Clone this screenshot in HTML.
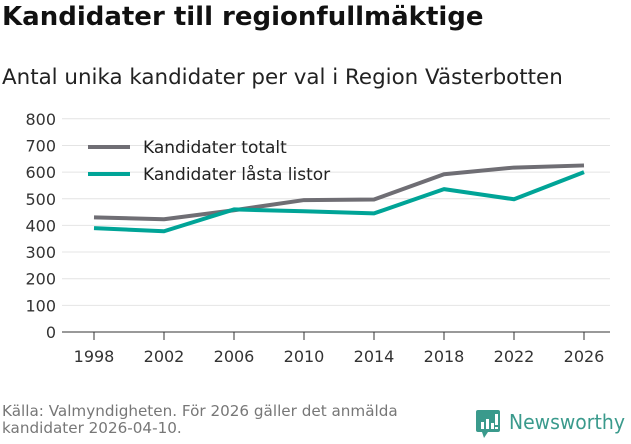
<!DOCTYPE html>
<html><head><meta charset="utf-8"><style>
body{margin:0;width:631px;height:439px;background:#fff;font-family:"DejaVu Sans","Liberation Sans",sans-serif;overflow:hidden;position:relative}
.t{position:absolute;left:2px;top:2px;font-size:26px;font-weight:bold;color:#111;white-space:nowrap}
.s{position:absolute;left:2px;top:65px;font-size:21.4px;color:#222;white-space:nowrap}
.src{position:absolute;left:2px;top:403px;font-size:15.2px;color:#777;line-height:17px;white-space:nowrap}
</style></head><body>
<div class="t">Kandidater till regionfullmäktige</div>
<div class="s">Antal unika kandidater per val i Region Västerbotten</div>
<svg id="c" width="631" height="439" style="position:absolute;left:0;top:0"></svg>
<div class="src">Källa: Valmyndigheten. För 2026 gäller det anmälda<br>kandidater 2026-04-10.</div>
<div style="position:absolute;left:476px;top:410px">
<svg width="155" height="30"><rect x="0" y="0" width="24" height="22" rx="2" fill="#3a9a8c"/><polygon points="6,22 12,22 8,28" fill="#3a9a8c"/>
<rect x="5" y="12" width="3" height="7" fill="#fff"/><rect x="10" y="9" width="3" height="10" fill="#fff"/><rect x="15" y="13" width="3" height="6" fill="#fff"/><rect x="19" y="4" width="3" height="11" fill="#fff"/><rect x="19" y="17" width="3" height="2" fill="#fff"/>
<text x="33" y="19" font-size="20" fill="#3a9a8c" textLength="116" lengthAdjust="spacingAndGlyphs" font-family="DejaVu Sans,sans-serif">Newsworthy</text></svg></div>
<script>
const years=[1998,2002,2006,2010,2014,2018,2022,2026];
const totalt=[430,423,457,495,497,592,617,625];
const lasta=[390,378,460,453,445,536,498,600];
const yTicks=[0,100,200,300,400,500,600,700,800];
const NS="http://www.w3.org/2000/svg",svg=document.getElementById('c');
const x=v=>94+(v-1998)*17.5, y=v=>332-v*0.2665;
function el(t,a,p){const e=document.createElementNS(NS,t);for(const k in a)e.setAttribute(k,a[k]);(p||svg).appendChild(e);return e}
yTicks.forEach(v=>{
 const g=el('line',{x1:62,x2:610,y1:y(v),y2:y(v),stroke:v?'#e4e4e4':'#333','stroke-width':1});
 
 
 const t=el('text',{x:56,y:y(v)+6,'text-anchor':'end','font-size':16,fill:'#333'});t.textContent=v;
 
 
});
years.forEach(v=>{
 el('line',{x1:x(v),x2:x(v),y1:332,y2:340,stroke:'#333'});
 const t=el('text',{x:x(v),y:362,'text-anchor':'middle','font-size':16,fill:'#333'});t.textContent=v;
 
 
});
function line(d,c,n){const p=el('polyline',{points:d.map((v,i)=>x(years[i])+','+y(v)).join(' '),fill:'none',stroke:c,'stroke-width':4,'stroke-linejoin':'round'});
 
 }
line(totalt,'#6f6e74','line-kandidater-totalt');
line(lasta,'#00a497','line-kandidater-lasta');
[['Kandidater totalt','#6f6e74',147],['Kandidater låsta listor','#00a497',174]].forEach(([l,c,yy])=>{
 const g=el('g',{});
 
 
 el('line',{x1:88,x2:130,y1:yy,y2:yy,stroke:c,'stroke-width':4},g);
 const t=el('text',{x:143,y:yy+6,'font-size':17,fill:'#222'},g);t.textContent=l;
});
</script>
</body></html>
